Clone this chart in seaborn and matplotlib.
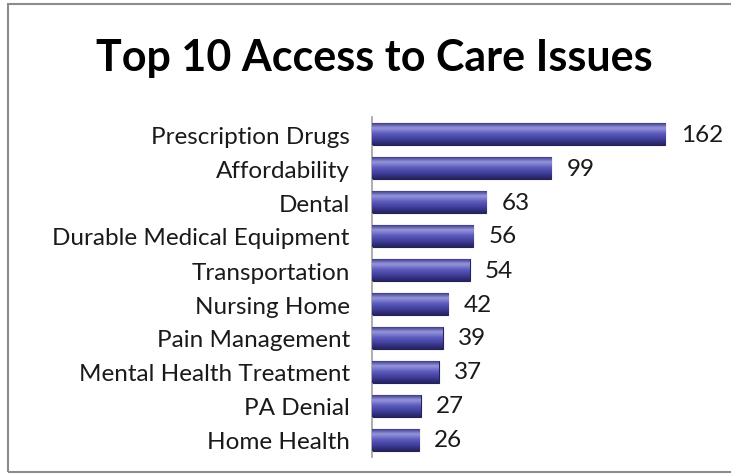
import matplotlib
matplotlib.use("Agg")
import matplotlib.pyplot as plt
import seaborn as sns
import numpy as np
import pandas as pd
from matplotlib.patches import Rectangle
from matplotlib.colors import LinearSegmentedColormap

categories = ["Prescription Drugs", "Affordability", "Dental", "Durable Medical Equipment",
              "Transportation", "Nursing Home", "Pain Management", "Mental Health Treatment",
              "PA Denial", "Home Health"]
values = [162, 99, 63, 56, 54, 42, 39, 37, 27, 26]
title = "Top 10 Access to Care Issues"

sns.set_theme(style="white")
plt.rcParams['font.family'] = ['Lato', 'DejaVu Sans']

df = pd.DataFrame({"issue": categories, "count": values})

fig = plt.figure(figsize=(7.31, 4.77), dpi=100)
fig.patch.set_facecolor("white")
ax = fig.add_axes([372/731, 19/477, 344/731, 340/477])

sns.barplot(data=df, y="issue", x="count", order=categories, orient="h",
            color="#4a48a6", edgecolor="#24225a", linewidth=0.8, width=0.65, ax=ax, zorder=2)

grad = np.linspace(0, 1, 64).reshape(-1, 1)
cmap = LinearSegmentedColormap.from_list("bar", ["#2e2c7c", "#9796dc", "#5d5bbd", "#403e9a", "#25235f"])
for p in ax.patches:
    x0, y0 = p.get_x(), p.get_y()
    w, h = p.get_width(), p.get_height()
    im = ax.imshow(grad, extent=[x0, x0 + w, y0 + h, y0], cmap=cmap, aspect="auto", zorder=3)
    im.set_clip_path(p)

ax.set_xlim(0, 190)
ax.set_ylim(9.5, -0.5)
ax.set_xlabel("")
ax.set_ylabel("")
ax.set_xticks([])
ax.tick_params(axis="y", length=0, pad=16, labelsize=17.5, labelcolor="#1a1a1a")
for s in ["top", "right", "bottom"]:
    ax.spines[s].set_visible(False)
ax.spines["left"].set_color("#a0a0a0")
ax.spines["left"].set_linewidth(1.2)
ax.set_facecolor("white")

ax.bar_label(ax.containers[0], labels=[str(v) for v in values], padding=11,
             fontsize=17.5, color="#1a1a1a")

fig.text(374/731, 1 - 58/477, title, ha="center", va="center",
         fontsize=31, fontweight="bold", color="black")

fig.add_artist(Rectangle((8/731, 4/477), 1.2, 1 - 9/477, transform=fig.transFigure,
                         fill=False, edgecolor="#8c8c8c", linewidth=1.5))

fig.savefig("out.png", dpi=100)
